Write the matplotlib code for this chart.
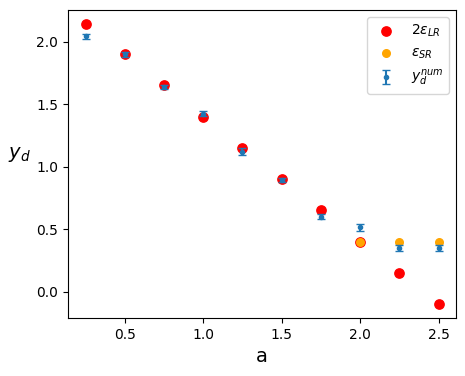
import matplotlib.pyplot as plt

a_vals = [0.25, 0.5, 0.75, 1.0, 1.25, 1.5, 1.75, 2.0, 2.25, 2.5]
eps_lr2 = [2.14, 1.90, 1.65, 1.40, 1.15, 0.90, 0.65, 0.40, 0.15, -0.10]

a_sr = [2.0, 2.25, 2.5]
eps_sr = [0.40, 0.40, 0.40]

yd_num = [2.045, 1.90, 1.635, 1.425, 1.12, 0.89, 0.60, 0.515, 0.35, 0.35]
yd_err = [0.02, 0.02, 0.015, 0.022, 0.03, 0.015, 0.02, 0.027, 0.023, 0.023]

fig, ax = plt.subplots(figsize=(4.65, 3.76), dpi=100)

ax.scatter(a_vals, eps_lr2, color='red', s=45, label=r'$2\epsilon_{LR}$')
ax.scatter(a_sr, eps_sr, color='orange', s=30, label=r'$\epsilon_{SR}$')
ax.errorbar(a_vals, yd_num, yerr=yd_err, fmt='.', capsize=3, label=r'$y_d^{num}$')

ax.set_xlabel('a', fontsize=14)
ax.set_ylabel(r'$y_d$', fontsize=14, rotation=0, labelpad=12)
ax.legend()

plt.subplots_adjust(left=0.146, right=0.981, top=0.973, bottom=0.154)
plt.savefig('out.png')
